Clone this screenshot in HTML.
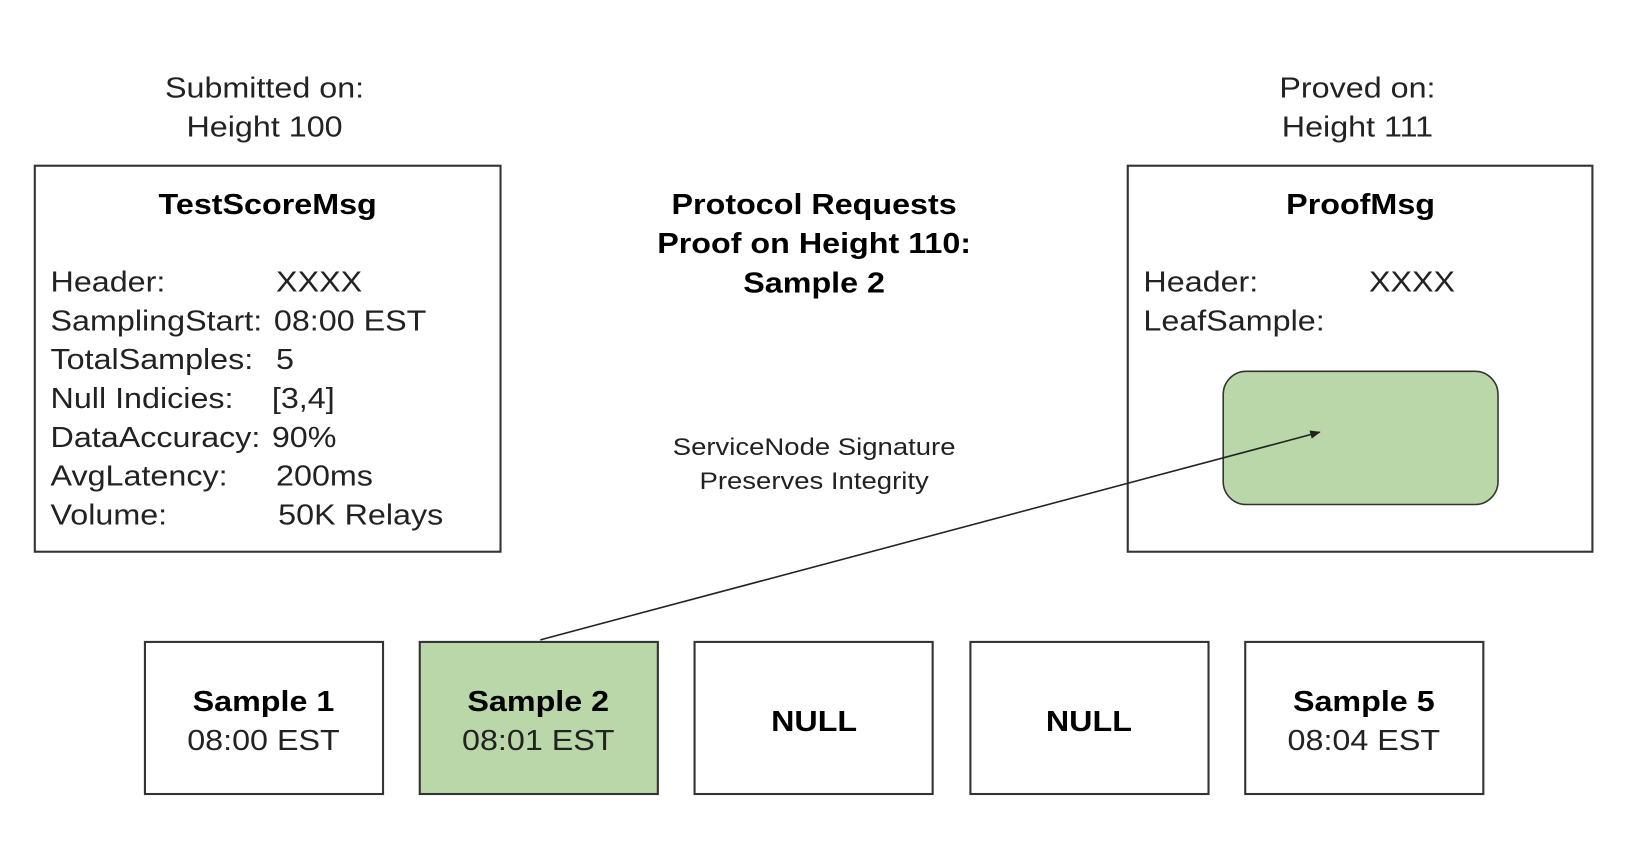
<!DOCTYPE html>
<html><head><style>html,body{margin:0;padding:0;background:#fff;}svg{display:block}</style></head>
<body>
<svg width="1644" height="858" viewBox="0 0 1567 818" xmlns="http://www.w3.org/2000/svg" font-family="'Liberation Sans', Arial, sans-serif" fill="#000">
<defs><marker id="ah" markerWidth="10" markerHeight="8" refX="9" refY="4" orient="auto" markerUnits="userSpaceOnUse"><path d="M0,0 L10,4 L0,8 Z" fill="#222"/></marker></defs>
<rect width="1567" height="818" fill="#fff"/>
<g stroke="#333" stroke-width="2" fill="none">
<rect x="33" y="158" width="444" height="368"/>
<rect x="1075" y="158" width="443" height="368"/>
</g>
<rect x="1166" y="354" width="262" height="127" rx="22" fill="#b9d7a8" stroke="#333" stroke-width="1.5"/>
<g stroke="#333" stroke-width="2">
<rect x="138" y="612" width="227" height="145" fill="#fff"/>
<rect x="400" y="612" width="227" height="145" fill="#b9d7a8"/>
<rect x="662" y="612" width="227" height="145" fill="#fff"/>
<rect x="925" y="612" width="227" height="145" fill="#fff"/>
<rect x="1187" y="612" width="227" height="145" fill="#fff"/>
</g>
<line x1="515" y1="610" x2="1258" y2="412" stroke="#222" stroke-width="1.5" marker-end="url(#ah)"/>
<g transform="scale(1.14,1)">
<g font-size="27" text-anchor="middle" fill="#222">
<text x="221.1" y="93">Submitted on:</text><text x="221.1" y="130">Height 100</text>
<text x="1135.1" y="93">Proved on:</text><text x="1135.1" y="130">Height 111</text>
</g>
<g font-size="27" font-weight="bold" text-anchor="middle">
<text x="223.7" y="204">TestScoreMsg</text>
<text x="1137.7" y="204">ProofMsg</text>
<text x="680.7" y="204">Protocol Requests</text>
<text x="680.7" y="241">Proof on Height 110:</text>
<text x="680.7" y="279">Sample 2</text>
</g>
<g font-size="27" fill="#222">
<text x="42.1" y="278">Header:</text><text x="230.7" y="278">XXXX</text>
<text x="42.1" y="315">SamplingStart:</text><text x="228.9" y="315">08:00 EST</text>
<text x="42.1" y="352">TotalSamples:</text><text x="230.7" y="352">5</text>
<text x="42.1" y="389">Null Indicies:</text><text x="227.2" y="389">[3,4]</text>
<text x="42.1" y="426">DataAccuracy:</text><text x="227.2" y="426">90%</text>
<text x="42.1" y="463">AvgLatency:</text><text x="230.7" y="463">200ms</text>
<text x="42.1" y="500">Volume:</text><text x="232.5" y="500">50K Relays</text>
<text x="956.1" y="278">Header:</text><text x="1144.7" y="278">XXXX</text>
<text x="956.1" y="315">LeafSample:</text>
</g>
<g font-size="23" text-anchor="middle" fill="#222">
<text x="680.7" y="434">ServiceNode Signature</text>
<text x="680.7" y="466">Preserves Integrity</text>
</g>
<g font-size="27" text-anchor="middle" fill="#222">
<text x="220.2" y="678" font-weight="bold" fill="#000">Sample 1</text><text x="220.2" y="715">08:00 EST</text>
<text x="450" y="678" font-weight="bold" fill="#000">Sample 2</text><text x="450" y="715">08:01 EST</text>
<text x="680.7" y="697" font-weight="bold" fill="#000">NULL</text>
<text x="910.5" y="697" font-weight="bold" fill="#000">NULL</text>
<text x="1140.4" y="678" font-weight="bold" fill="#000">Sample 5</text><text x="1140.4" y="715">08:04 EST</text>
</g>
</g>
</svg>
</body></html>
